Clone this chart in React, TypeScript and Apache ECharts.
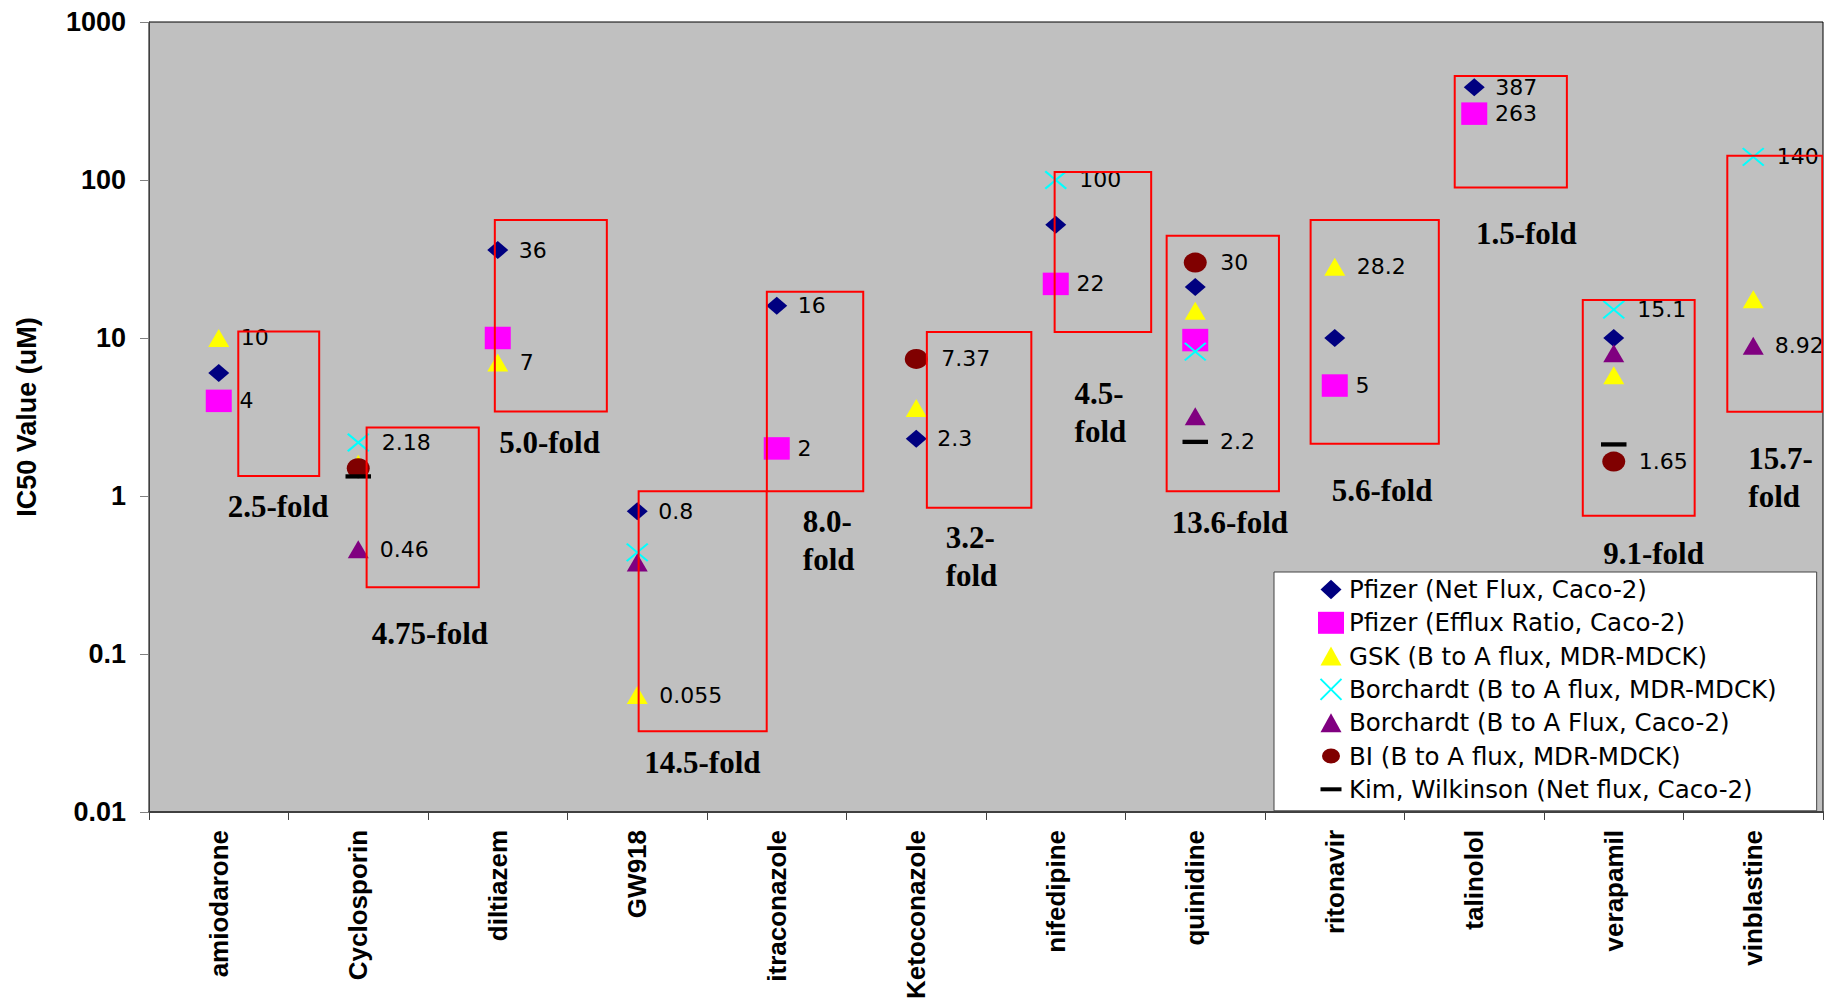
import React, { useEffect, useRef } from "react";
import * as echarts from "echarts";

// ---------- data ----------
const categories = [
  "amiodarone", "Cyclosporin", "diltiazem", "GW918", "itraconazole", "Ketoconazole",
  "nifedipine", "quinidine", "ritonavir", "talinolol", "verapamil", "vinblastine",
];

const seriesNames = [
  "Pfizer (Net Flux, Caco-2)",
  "Pfizer (Efflux Ratio, Caco-2)",
  "GSK (B to A flux, MDR-MDCK)",
  "Borchardt (B to A flux, MDR-MDCK)",
  "Borchardt (B to A Flux, Caco-2)",
  "BI (B to A flux, MDR-MDCK)",
  "Kim, Wilkinson (Net flux, Caco-2)",
];

const pfizerNetFlux = [6, null, 36, 0.8, 16, 2.3, 52, 21, 10, 387, 10, null];
const pfizerEffluxRatio = [4, null, 10, null, 2, null, 22, 9.7, 5, 263, null, null];
const gskMdck = [10, 1.6, 7, 0.055, null, 3.6, null, 14.9, 28.2, null, 5.8, 17.6];
const borchardtMdck = [null, 2.18, null, 0.44, null, null, 100, 8.2, null, null, 15.1, 140];
const borchardtCaco = [null, 0.46, null, 0.38, null, null, null, 3.2, null, null, 8.0, 8.92];
const biMdck = [null, 1.5, null, null, null, 7.37, null, 30, null, null, 1.65, null];
const kimWilkinson = [null, 1.33, null, null, null, null, null, 2.2, null, null, 2.12, null];

// which points carry a value label
const pfizerNetLabelled = ["diltiazem", "GW918", "itraconazole", "Ketoconazole", "talinolol"];
const pfizerEffluxLabelled = ["amiodarone", "itraconazole", "nifedipine", "ritonavir", "talinolol"];
const gskLabelled = ["amiodarone", "diltiazem", "GW918", "ritonavir"];
const borchardtMdckLabelled = ["Cyclosporin", "nifedipine", "verapamil", "vinblastine"];
const borchardtCacoLabelled = ["Cyclosporin", "vinblastine"];
const biLabelled = ["Ketoconazole", "quinidine", "verapamil"];
const kimLabelled = ["quinidine"];

const yTicks = [0.01, 0.1, 1, 10, 100, 1000];

// fold-range boxes: category, start/end offset in category units, low/high value
const boxCat = [0, 1, 2, 3, 4, 5, 6, 7, 8, 9, 10, 11];
const boxDx0 = [0.14, 0.06, -0.021, 0.01, -0.071, 0.076, -0.008, -0.205, -0.173, -0.14, -0.222, -0.186];
const boxDx1 = [0.72, 0.864, 0.782, 0.928, 0.62, 0.825, 0.684, 0.6, 0.746, 0.664, 0.58, 0.495];
const boxLow = [1.34, 0.264, 3.43, 0.0324, 1.07, 0.843, 10.9, 1.07, 2.14, 89.5, 0.75, 3.41];
const boxHigh = [11.0, 2.71, 55.9, 1.07, 19.6, 10.9, 112.5, 44.3, 55.9, 455, 17.4, 142.6];

// fold annotations
const foldTexts = [
  "2.5-fold", "4.75-fold", "5.0-fold", "14.5-fold", "8.0-\nfold", "3.2-\nfold",
  "4.5-\nfold", "13.6-fold", "5.6-fold", "1.5-fold", "9.1-fold", "15.7-\nfold",
];
const foldCat = [0, 1, 2, 3, 4, 5, 6, 7, 8, 9, 10, 11];
const foldDx = [0.425, 0.514, 0.371, 0.467, 0.187, 0.211, 0.135, 0.249, 0.339, 0.373, 0.285, -0.035];
const foldY = [0.855, 0.1345, 2.17, 0.0207, 0.521, 0.411, 3.36, 0.682, 1.08, 45.6, 0.431, 1.315];

// ---------- styling ----------
const SANS = '"Liberation Sans", Arial, Helvetica, sans-serif';
const WIDE = '"DejaVu Sans", "Liberation Sans", Arial, sans-serif';
const SERIF = '"Liberation Serif", "Times New Roman", Times, serif';
const FRAME = "M0,0L0,0M26,22L26,22";
const X_SYMBOL = "path://M0,0L20,20M20,0L0,20";

function points(values: (number | null)[], labelled: string[]) {
  const out: any[] = [];
  categories.forEach((c, i) => {
    const v = values[i];
    if (v == null) return;
    out.push({ value: [c, v], label: { show: labelled.includes(c) } });
  });
  return out;
}

function scatter(
  name: string,
  values: (number | null)[],
  labelled: string[],
  symbol: string,
  size: number[],
  itemStyle: any,
  distance: number
) {
  return {
    type: "scatter",
    name,
    data: points(values, labelled),
    symbol,
    symbolSize: size,
    symbolKeepAspect: false,
    itemStyle: { opacity: 1, ...itemStyle },
    z: 2,
    silent: true,
    label: {
      show: false,
      position: "right",
      distance,
      color: "#000",
      fontSize: 22,
      fontFamily: WIDE,
      formatter: (p: any) => String(p.value[1]),
    },
  };
}

export default function App() {
  const ref = useRef<HTMLDivElement>(null);

  useEffect(() => {
    if (!ref.current) return;
    const chart = echarts.init(ref.current, null, { renderer: "svg" });

    const boxData = boxCat.map((c, i) => [c, boxDx0[i], boxDx1[i], boxLow[i], boxHigh[i]]);
    const foldData = foldCat.map((c, i) => [c, foldDx[i], foldY[i]]);

    const option: any = {
      animation: false,
      backgroundColor: "#ffffff",
      grid: {
        left: 149,
        right: 1,
        top: 22,
        bottom: 190,
        show: true,
        backgroundColor: "#C0C0C0",
        borderColor: "#000",
        borderWidth: 1,
      },
      xAxis: {
        type: "category",
        data: categories,
        axisLine: { lineStyle: { color: "#404040", width: 2 } },
        axisTick: { show: true, length: 8, lineStyle: { color: "#404040", width: 1 } },
        axisLabel: {
          rotate: 90,
          interval: 0,
          margin: 18,
          fontSize: 26,
          fontWeight: "bold",
          color: "#000",
          fontFamily: SANS,
        },
        splitLine: { show: false },
      },
      yAxis: {
        type: "log",
        logBase: 10,
        min: yTicks[0],
        max: yTicks[yTicks.length - 1],
        name: "IC50 Value (uM)",
        nameLocation: "middle",
        nameGap: 109,
        nameTextStyle: { fontSize: 27, fontWeight: "bold", color: "#000", fontFamily: SANS },
        axisLine: { show: true, lineStyle: { color: "#404040", width: 1 } },
        axisTick: { show: true, length: 9, lineStyle: { color: "#808080", width: 1 } },
        minorTick: { show: false },
        splitLine: { show: false },
        axisLabel: {
          margin: 23,
          fontSize: 27,
          fontWeight: "bold",
          color: "#000",
          fontFamily: SANS,
          formatter: (v: number) => String(+Number(v).toPrecision(6)),
        },
      },
      legend: {
        orient: "vertical",
        left: 1274,
        top: 572,
        padding: [5, 40, 9, 43],
        itemWidth: 26,
        itemHeight: 22,
        itemGap: 8.3,
        symbolKeepAspect: true,
        selectedMode: false,
        backgroundColor: "#ffffff",
        borderColor: "#444",
        borderWidth: 1,
        textStyle: { fontFamily: WIDE, fontSize: 24.5, color: "#000", lineHeight: 24 },
        data: [
          { name: seriesNames[0], icon: "path://" + FRAME + "M13,1.3L23.5,11L13,20.7L2.5,11Z", itemStyle: { color: "#000080", opacity: 1 } },
          { name: seriesNames[1], icon: "rect", itemStyle: { color: "#FF00FF", opacity: 1 } },
          { name: seriesNames[2], icon: "path://" + FRAME + "M13,1.5L23.5,20.5L2.5,20.5Z", itemStyle: { color: "#FFFF00", opacity: 1 } },
          {
            name: seriesNames[3],
            icon: "path://" + FRAME + "M2.5,0.5L23.5,21.5M23.5,0.5L2.5,21.5",
            itemStyle: { color: "rgba(0,0,0,0)", borderColor: "#00FFFF", borderWidth: 2, opacity: 1 },
          },
          { name: seriesNames[4], icon: "path://" + FRAME + "M13,1.5L23.5,20.5L2.5,20.5Z", itemStyle: { color: "#800080", opacity: 1 } },
          { name: seriesNames[5], icon: "path://" + FRAME + "M4,11A9,7.5,0,1,0,22,11A9,7.5,0,1,0,4,11Z", itemStyle: { color: "#800000", opacity: 1 } },
          { name: seriesNames[6], icon: "path://" + FRAME + "M2.5,9L23.5,9L23.5,13L2.5,13Z", itemStyle: { color: "#000000", opacity: 1 } },
        ],
      },
      series: [
        scatter(seriesNames[0], pfizerNetFlux, pfizerNetLabelled, "diamond", [21, 18], { color: "#000080" }, 10.5),
        scatter(seriesNames[1], pfizerEffluxRatio, pfizerEffluxLabelled, "rect", [26, 22.5], { color: "#FF00FF" }, 7.7),
        scatter(seriesNames[2], gskMdck, gskLabelled, "triangle", [21, 18], { color: "#FFFF00" }, 11.5),
        scatter(
          seriesNames[3], borchardtMdck, borchardtMdckLabelled, X_SYMBOL, [21, 17.5],
          { color: "rgba(0,0,0,0)", borderColor: "#00FFFF", borderWidth: 2 }, 12
        ),
        scatter(seriesNames[4], borchardtCaco, borchardtCacoLabelled, "triangle", [21, 18], { color: "#800080" }, 11),
        scatter(seriesNames[5], biMdck, biLabelled, "circle", [23, 20], { color: "#800000" }, 13.5),
        scatter(seriesNames[6], kimWilkinson, kimLabelled, "rect", [25.5, 4.3], { color: "#000000" }, 12),
        {
          type: "custom",
          name: "foldBoxes",
          data: boxData,
          encode: { x: 0, y: [3, 4] },
          clip: true,
          silent: true,
          z: 5,
          renderItem: (params: any, api: any) => {
            const cat = api.value(0);
            const top = api.coord([cat, api.value(4)]);
            const bottom = api.coord([cat, api.value(3)]);
            const bw = api.coord([1, 1])[0] - api.coord([0, 1])[0];
            const x0 = top[0] + api.value(1) * bw;
            const x1 = top[0] + api.value(2) * bw;
            return {
              type: "rect",
              shape: { x: x0, y: top[1], width: x1 - x0, height: bottom[1] - top[1] },
              style: { fill: "none", stroke: "#FF0000", lineWidth: 2 },
            };
          },
        },
        {
          type: "custom",
          name: "foldLabels",
          data: foldData,
          encode: { x: 0, y: 2 },
          silent: true,
          z: 6,
          renderItem: (params: any, api: any) => {
            const text = foldTexts[params.dataIndex];
            const c = api.coord([api.value(0), api.value(2)]);
            const bw = api.coord([1, 1])[0] - api.coord([0, 1])[0];
            const multi = text.indexOf("\n") >= 0;
            return {
              type: "text",
              x: c[0] + api.value(1) * bw,
              y: c[1],
              style: {
                text,
                fill: "#000",
                fontSize: 31,
                fontWeight: "bold",
                fontFamily: SERIF,
                align: multi ? "left" : "center",
                verticalAlign: "middle",
                lineHeight: 38,
              },
            };
          },
        },
      ],
    };

    chart.setOption(option);
    return () => chart.dispose();
  }, []);

  return (
    <div
      ref={ref}
      style={{ position: "absolute", left: 0, top: 0, width: 1824, height: 1002, background: "#fff" }}
    />
  );
}
